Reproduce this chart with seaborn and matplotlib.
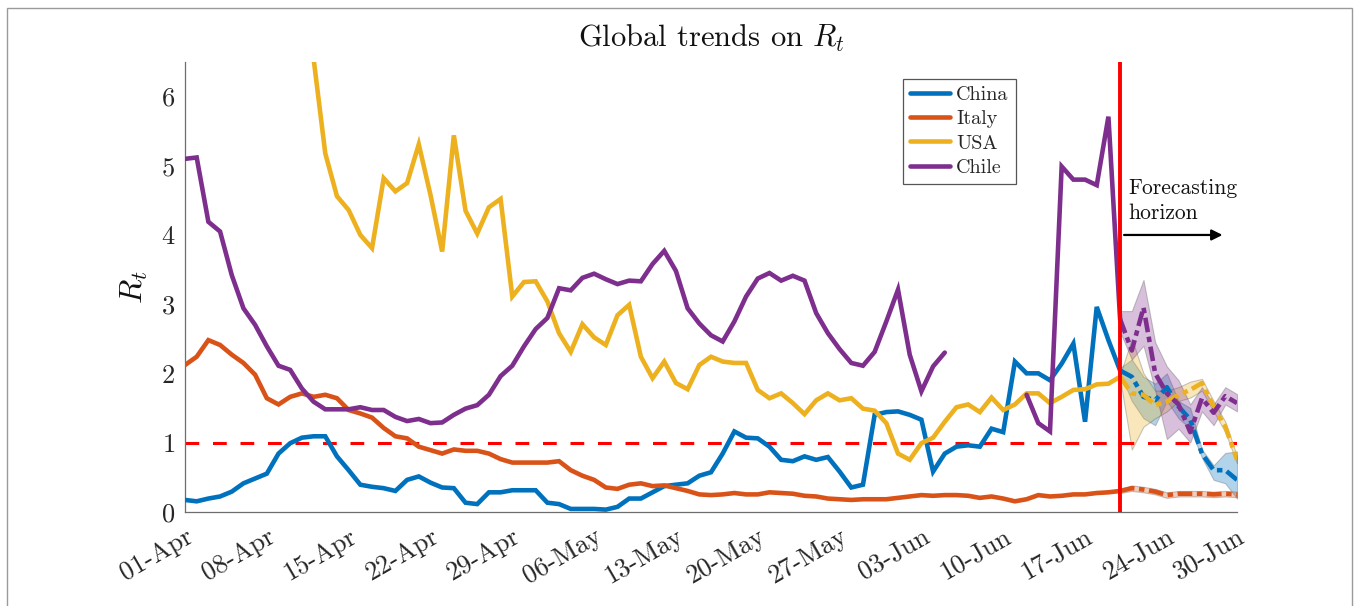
import numpy as np
import pandas as pd
import matplotlib
matplotlib.use("Agg")
import matplotlib.pyplot as plt
from matplotlib.lines import Line2D
from matplotlib.patches import Rectangle
import seaborn as sns

# ---- data -------------------------------------------------------------
nan = np.nan
tick_days = [0, 7, 14, 21, 28, 35, 42, 49, 56, 63, 70, 77, 84, 90]
tick_labels = ["01-Apr", "08-Apr", "15-Apr", "22-Apr", "29-Apr", "06-May",
               "13-May", "20-May", "27-May", "03-Jun", "10-Jun", "17-Jun",
               "24-Jun", "30-Jun"]
countries = ["China", "Italy", "USA", "Chile"]
forecast_start = 80  # 20-Jun

# observed R_t, one value per day from 01-Apr to 20-Jun
china = [0.17, 0.15, 0.19, 0.22, 0.29, 0.41, 0.48, 0.55, 0.84, 0.99,
         1.07, 1.09, 1.09, 0.80, 0.60, 0.39, 0.36, 0.34, 0.30, 0.46,
         0.51, 0.42, 0.35, 0.34, 0.13, 0.11, 0.28, 0.28, 0.31, 0.31,
         0.31, 0.13, 0.11, 0.04, 0.04, 0.04, 0.03, 0.07, 0.19, 0.19,
         0.28, 0.37, 0.39, 0.41, 0.52, 0.57, 0.84, 1.16, 1.07, 1.06,
         0.94, 0.75, 0.73, 0.80, 0.75, 0.79, 0.58, 0.35, 0.39, 1.40,
         1.44, 1.45, 1.40, 1.33, 0.58, 0.84, 0.94, 0.96, 0.94, 1.20,
         1.15, 2.17, 2.00, 2.00, 1.90, 2.14, 2.43, 1.30, 2.96, 2.48,
         2.04]
italy = [2.12, 2.24, 2.48, 2.41, 2.27, 2.15, 1.98, 1.64, 1.55, 1.66,
         1.71, 1.66, 1.69, 1.64, 1.47, 1.42, 1.36, 1.21, 1.09, 1.06,
         0.94, 0.89, 0.84, 0.90, 0.88, 0.88, 0.84, 0.76, 0.71, 0.71,
         0.71, 0.71, 0.73, 0.60, 0.52, 0.46, 0.35, 0.33, 0.39, 0.41,
         0.37, 0.38, 0.34, 0.30, 0.25, 0.24, 0.25, 0.27, 0.25, 0.25,
         0.28, 0.27, 0.26, 0.23, 0.22, 0.19, 0.18, 0.17, 0.18, 0.18,
         0.18, 0.20, 0.22, 0.24, 0.23, 0.24, 0.24, 0.23, 0.20, 0.22,
         0.19, 0.15, 0.18, 0.24, 0.22, 0.23, 0.25, 0.25, 0.27, 0.28,
         0.30]
usa = [nan, nan, nan, nan, nan, nan, nan, nan, nan, nan,
       nan, 6.55, 5.18, 4.56, 4.36, 4.00, 3.81, 4.82, 4.63, 4.75,
       5.31, 4.58, 3.76, 5.44, 4.35, 4.02, 4.40, 4.52, 3.11, 3.32,
       3.33, 3.04, 2.58, 2.31, 2.71, 2.52, 2.41, 2.84, 2.99, 2.24,
       1.93, 2.17, 1.86, 1.77, 2.12, 2.24, 2.17, 2.15, 2.15, 1.76,
       1.64, 1.71, 1.57, 1.41, 1.61, 1.71, 1.61, 1.64, 1.49, 1.46,
       1.28, 0.84, 0.75, 0.99, 1.07, 1.30, 1.51, 1.55, 1.44, 1.65,
       1.47, 1.55, 1.71, 1.71, 1.57, 1.66, 1.76, 1.77, 1.84, 1.85,
       1.95]
chile = [5.10, 5.12, 4.19, 4.05, 3.42, 2.94, 2.70, 2.39, 2.11, 2.05,
         1.78, 1.59, 1.48, 1.48, 1.48, 1.51, 1.47, 1.47, 1.37, 1.31,
         1.34, 1.28, 1.29, 1.40, 1.49, 1.54, 1.69, 1.96, 2.11, 2.39,
         2.64, 2.80, 3.23, 3.20, 3.38, 3.44, 3.36, 3.29, 3.34, 3.33,
         3.58, 3.77, 3.48, 2.94, 2.72, 2.55, 2.46, 2.75, 3.11, 3.37,
         3.45, 3.34, 3.41, 3.34, 2.87, 2.58, 2.35, 2.15, 2.11, 2.31,
         2.75, 3.21, 2.27, 1.74, 2.10, 2.30, nan, nan, nan, nan,
         nan, nan, 1.69, 1.28, 1.16, 4.99, 4.80, 4.80, 4.72, 5.71,
         2.78]

# forecast (20-Jun .. 30-Jun): central estimate and band limits
china_fc = [2.04, 1.95, 1.66, 1.61, 1.80, 1.52, 1.33, 0.84, 0.60, 0.60, 0.46]
china_lo = [2.00, 1.60, 1.35, 1.25, 1.60, 1.35, 1.20, 0.78, 0.46, 0.41, 0.19]
china_hi = [2.08, 2.20, 1.95, 1.85, 2.00, 1.60, 1.50, 0.90, 0.67, 0.85, 0.87]
italy_fc = [0.30, 0.34, 0.32, 0.29, 0.24, 0.26, 0.26, 0.26, 0.25, 0.26, 0.25]
italy_lo = [0.27, 0.30, 0.28, 0.25, 0.20, 0.22, 0.22, 0.22, 0.21, 0.22, 0.21]
italy_hi = [0.33, 0.38, 0.36, 0.33, 0.28, 0.30, 0.30, 0.30, 0.29, 0.30, 0.29]
usa_fc = [1.95, 1.71, 1.69, 1.54, 1.59, 1.69, 1.76, 1.86, 1.52, 1.23, 0.75]
usa_lo = [1.92, 0.90, 1.23, 1.35, 1.45, 1.60, 1.65, 1.75, 1.45, 1.15, 0.70]
usa_hi = [1.98, 2.50, 2.00, 1.75, 1.75, 1.80, 1.88, 1.92, 1.60, 1.30, 0.80]
chile_fc = [2.78, 2.33, 2.95, 2.00, 1.71, 1.55, 1.15, 1.64, 1.43, 1.67, 1.57]
chile_lo = [2.60, 2.20, 2.40, 1.75, 1.05, 1.20, 1.00, 1.45, 1.25, 1.55, 1.45]
chile_hi = [2.90, 2.90, 3.35, 2.45, 2.10, 1.90, 1.55, 1.80, 1.55, 1.80, 1.70]

colors = {"China": "#0072BD", "Italy": "#D95319",
          "USA": "#EDB120", "Chile": "#7E2F8E"}

observed = {"China": china, "Italy": italy, "USA": usa, "Chile": chile}
forecast = {"China": (china_fc, china_lo, china_hi),
            "Italy": (italy_fc, italy_lo, italy_hi),
            "USA": (usa_fc, usa_lo, usa_hi),
            "Chile": (chile_fc, chile_lo, chile_hi)}

# ---- style ------------------------------------------------------------
sns.set_style("white")
plt.rcParams["font.family"] = "serif"
plt.rcParams["font.serif"] = ["cmr10", "DejaVu Serif"]
plt.rcParams["mathtext.fontset"] = "cm"
plt.rcParams["axes.unicode_minus"] = False
plt.rcParams["axes.formatter.use_mathtext"] = True

fig = plt.figure(figsize=(13.6, 6.06), dpi=100)
ax = fig.add_axes([185 / 1360, 1 - 511.7 / 606, 1052 / 1360, 449.7 / 606])

LW = 3.3

# observed series, split into contiguous runs so gaps stay open
for name in countries:
    vals = np.asarray(observed[name], dtype=float)
    df = pd.DataFrame({"day": np.arange(len(vals)), "R": vals})
    df["run"] = df["R"].isna().cumsum()
    df = df.dropna()
    for _, part in df.groupby("run"):
        if len(part) < 2:
            continue
        sns.lineplot(data=part, x="day", y="R", ax=ax, color=colors[name],
                     linewidth=LW, sort=False, estimator=None, legend=False,
                     solid_joinstyle="miter", zorder=3)

# forecast bands and dash-dot central estimates
fc_days = np.arange(forecast_start, forecast_start + len(china_fc))
for name in countries:
    mid, lo, hi = forecast[name]
    ax.fill_between(fc_days, lo, hi, facecolor=colors[name], alpha=0.3,
                    edgecolor=(0.3, 0.3, 0.3, 0.35), linewidth=0.8, zorder=2)
    dfc = pd.DataFrame({"day": fc_days, "R": mid})
    sns.lineplot(data=dfc, x="day", y="R", ax=ax, color=colors[name],
                 linewidth=LW, dashes=False, legend=False, zorder=3,
                 linestyle=(0, (3.2, 1.0, 1.2, 1.0)))

# threshold R_t = 1 and the forecast boundary
ax.axhline(1, color="#FF0000", linewidth=2.2, linestyle=(0, (4.5, 4.5)),
           zorder=2.5)
ax.axvline(forecast_start, color="#FF0000", linewidth=2.8, zorder=4)

ax.annotate("", xy=(89.0, 4.0), xytext=(80.1, 4.0),
            arrowprops=dict(arrowstyle="-|>", color="black", lw=1.6,
                            mutation_scale=16), zorder=5)
ax.text(80.7, 4.18, "Forecasting\nhorizon", fontsize=15.5, ha="left",
        va="bottom", linespacing=1.3, color="#111111")

# axes
ax.set_xlim(0, 90)
ax.set_ylim(0, 6.5)
ax.set_xticks(tick_days)
ax.set_xticklabels(tick_labels, rotation=30, ha="right",
                   rotation_mode="anchor")
ax.set_yticks(range(0, 7))
ax.tick_params(axis="both", direction="in", length=7, width=0.8,
               labelsize=19, colors="#262626", pad=7)
ax.tick_params(axis="x", pad=9)
for side in ("top", "right"):
    ax.spines[side].set_visible(False)
for side in ("left", "bottom"):
    ax.spines[side].set_color("#6e6e6e")
    ax.spines[side].set_linewidth(0.9)
ax.set_xlabel("")
ax.set_ylabel(r"$R_t$", fontsize=23, labelpad=8, color="#111111")
ax.set_title(r"Global trends on $R_t$", fontsize=22, pad=11,
             color="#111111")

handles = [Line2D([0], [0], color=colors[c], lw=LW) for c in countries]
leg = ax.legend(handles, countries, loc="upper left",
                bbox_to_anchor=(0.6825, 0.962), borderaxespad=0,
                fontsize=14.5, handlelength=2.0, handletextpad=0.3,
                labelspacing=0.3, borderpad=0.35, frameon=True,
                fancybox=False, framealpha=1)
leg.get_frame().set_edgecolor("#555555")
leg.get_frame().set_linewidth(0.9)

# thin frame round the whole figure
fig.patches.append(Rectangle((7 / 1360, -0.02), (1352 - 7) / 1360,
                             1 - 8 / 606 + 0.02, transform=fig.transFigure,
                             fill=False, edgecolor="#9a9a9a", linewidth=1.0))

fig.savefig("out.png", dpi=100)
